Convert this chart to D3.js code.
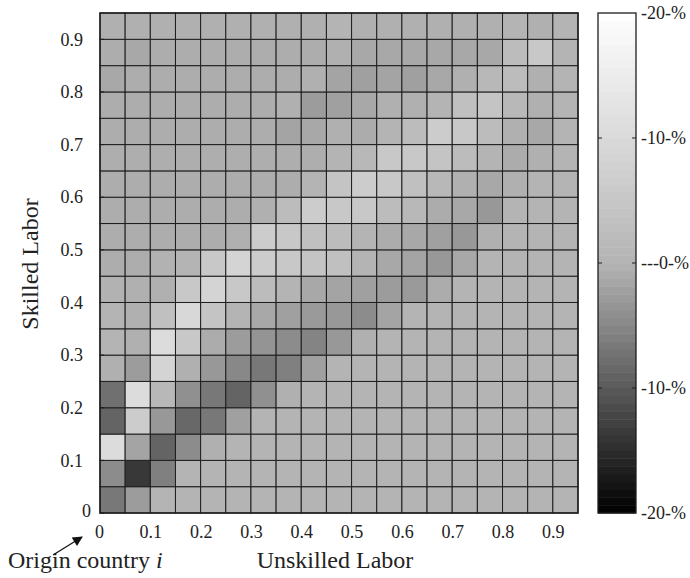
<!DOCTYPE html>
<html>
<head>
<meta charset="utf-8">
<script src="https://cdn.jsdelivr.net/npm/d3@7"></script>
<style>
  html, body { margin: 0; padding: 0; background: #fff; }
  svg { display: block; font-family: "Liberation Serif", "DejaVu Serif", serif; }
</style>
</head>
<body>
<svg id="chart" width="690" height="578"></svg>
<script>
// ---- data ----
// lower edge of each bin (unskilled labor share = x, skilled labor share = y)
const bins = [0, 0.05, 0.1, 0.15, 0.2, 0.25, 0.3, 0.35, 0.4, 0.45, 0.5, 0.55, 0.6, 0.65, 0.7, 0.75, 0.8, 0.85, 0.9];
const binWidth = 0.05;
// percentage change per cell; rows listed from bottom (skilled 0) to top (skilled 0.9)
const row00 = [-6.7, -2.7, 0, 0, 0, 0, 0, 0, 0, 0, 0, 0, 0, 0, 0, 0, 0, 0, 0];
const row01 = [-4.4, -13.8, -5.8, 0, 0, 0, 0, 0, 0, 0, 0, 0, 0, 0, 0, 0, 0, 0, 0];
const row02 = [10.7, -1.8, -8.9, -4.4, -0.4, 0, 0, 0, 0, 0, 0, 0, 0, 0, 0, 0, 0, 0, 0];
const row03 = [-8.9, 6.4, -3.1, -8.4, -6.7, -2.2, 0, 0, 0, 0, 0, 0, 0, 0, 0, 0, 0, 0, 0];
const row04 = [-7.6, 10.7, 1.1, -4.0, -6.7, -8.9, -4.0, -0.4, 0, 0, 0, 0, 0, 0, 0, 0, 0, 0, 0];
const row05 = [-0.4, -2.7, 8.5, -0.4, -3.1, -4.9, -6.7, -5.8, -2.2, 0, 0, 0, 0, 0, 0, 0, 0, 0, 0];
const row06 = [0, -0.4, 10.7, 5.3, -0.9, -2.7, -3.6, -4.4, -5.3, -3.1, -0.4, 0, 0, 0, 0, 0, 0, 0, 0];
const row07 = [0, -0.4, 3.2, 9.6, 4.3, 0, -1.3, -2.2, -2.9, -3.1, -4.4, -1.8, 0, 0, 0, 0, 0, 0, 0];
const row08 = [-0.2, -0.4, -0.4, 5.3, 8.5, 5.3, 2.1, 0, -1.3, -1.8, -2.2, -2.7, -2.9, -0.9, 0, 0, 0, 0, 0];
const row09 = [-0.8, -0.8, -0.2, 0, 5.3, 8.5, 6.4, 5.3, 4.3, 3.2, 0, -1.3, -1.8, -3.1, -1.3, 0, 0, 0, 0];
const row10 = [-0.8, -0.8, -0.8, -0.8, -0.8, -0.4, 6.4, 5.3, 3.2, 2.1, 0, -0.9, -1.3, -2.2, -3.1, -0.4, 0, 0, 0];
const row11 = [-0.8, -0.8, -0.8, -0.8, -0.8, -0.8, -0.4, 2.1, 6.4, 5.3, 5.3, 2.1, 1.1, -0.9, -1.3, -3.1, 0, 0, 0];
const row12 = [-0.8, -0.8, -0.8, -0.8, -0.8, -0.8, -0.8, -0.8, 0, 4.3, 6.4, 5.3, 3.2, 1.1, -0.4, -1.3, -0.4, 0, 0];
const row13 = [-0.7, -0.7, -0.7, -0.7, -0.7, -0.7, -0.7, -0.7, -0.7, 0, 1.1, 5.3, 5.3, 4.3, 2.1, 0, -0.9, -0.4, 0];
const row14 = [-0.8, -0.8, -0.8, -0.8, -0.8, -0.8, -0.8, -1.8, -1.3, -0.4, -0.9, 0, 2.1, 6.4, 5.3, 2.1, -0.4, -1.3, 0];
const row15 = [-0.8, -0.8, -0.8, -0.8, -0.8, -0.8, -0.8, -0.4, -2.7, -2.2, -1.3, -0.4, -0.4, 0, 3.2, 4.3, 1.1, -0.4, 0];
const row16 = [-1.3, -0.8, -0.8, -0.8, -0.8, -0.8, -0.8, -0.8, -0.4, -1.8, -2.2, -1.8, -2.2, -1.3, -0.4, 1.1, 2.1, -0.4, 0];
const row17 = [-0.8, -1.3, -0.8, -0.8, -0.8, -0.8, -0.8, -0.8, -0.8, -0.4, -1.3, -1.3, -1.3, -1.3, -1.3, -1.3, 2.1, 5.3, 0];
const row18 = [-0.4, -0.4, -0.4, -0.4, -0.4, -0.4, -0.4, -0.4, -0.4, 0, -0.4, -0.4, -0.4, -0.4, -0.4, -0.4, 0, -0.4, 0];
const rows = [row00, row01, row02, row03, row04, row05, row06, row07, row08, row09,
              row10, row11, row12, row13, row14, row15, row16, row17, row18];

const xTickValues = [0, 0.1, 0.2, 0.3, 0.4, 0.5, 0.6, 0.7, 0.8, 0.9];
const xTickLabels = ["0", "0.1", "0.2", "0.3", "0.4", "0.5", "0.6", "0.7", "0.8", "0.9"];
const yTickValues = [0, 0.1, 0.2, 0.3, 0.4, 0.5, 0.6, 0.7, 0.8, 0.9];
const yTickLabels = ["0", "0.1", "0.2", "0.3", "0.4", "0.5", "0.6", "0.7", "0.8", "0.9"];
const colorDomain = [-20, 0, 20];
const colorbarTickValues = [20, 10, 0, -10, -20];
const colorbarTickLabels = ["-20-%", "-10-%", "---0-%", "-10-%", "-20-%"];

// ---- drawing ----
const svg = d3.select("#chart");
const plotLeft = 100, plotRight = 578, plotTop = 13, plotBottom = 513;

const x = d3.scaleLinear().domain([0, 0.95]).range([plotLeft, plotRight]);
const y = d3.scaleLinear().domain([0, 0.95]).range([plotBottom, plotTop]);
const color = d3.scaleLinear().domain(colorDomain).range(["#000000", "#b4b4b4", "#ffffff"]);

const cells = [];
rows.forEach((r, ri) => r.forEach((v, ci) => cells.push({ xs: bins[ci], ys: bins[ri], v })));

svg.append("g").selectAll("rect").data(cells).join("rect")
  .attr("x", d => x(d.xs))
  .attr("y", d => y(d.ys + binWidth))
  .attr("width", d => x(d.xs + binWidth) - x(d.xs))
  .attr("height", d => y(d.ys) - y(d.ys + binWidth))
  .attr("fill", d => color(d.v))
  .attr("stroke", "#1e1e1e")
  .attr("stroke-width", 1);

svg.append("rect")
  .attr("x", plotLeft).attr("y", plotTop)
  .attr("width", plotRight - plotLeft).attr("height", plotBottom - plotTop)
  .attr("fill", "none").attr("stroke", "#1e1e1e").attr("stroke-width", 1.5);

// x axis
const xAxis = d3.axisBottom(x).tickValues(xTickValues)
  .tickFormat((d, i) => xTickLabels[i]).tickSize(0).tickPadding(12);
const gx = svg.append("g").attr("transform", `translate(0,${plotBottom})`).call(xAxis);
gx.select(".domain").remove();
gx.selectAll("text").attr("font-size", 18).attr("fill", "#222").attr("font-family", "Liberation Serif, serif");
gx.selectAll(".tick").filter((d, i) => i === 0).select("text").attr("dx", -1);

// y axis
const yAxis = d3.axisLeft(y).tickValues(yTickValues)
  .tickFormat((d, i) => yTickLabels[i]).tickSize(0).tickPadding(17);
const gy = svg.append("g").attr("transform", `translate(${plotLeft},0)`).call(yAxis);
gy.select(".domain").remove();
gy.selectAll("text").attr("font-size", 18).attr("fill", "#222").attr("font-family", "Liberation Serif, serif");
gy.selectAll(".tick").filter((d, i) => i === 0).select("text").attr("dx", 8).attr("dy", "0.2em");

// small inward ticks on the left
svg.append("g").selectAll("line").data(yTickValues).join("line")
  .attr("x1", plotLeft).attr("x2", plotLeft + 4)
  .attr("y1", d => y(d)).attr("y2", d => y(d))
  .attr("stroke", "#1e1e1e").attr("stroke-width", 1);

// axis titles
svg.append("text")
  .attr("transform", `translate(38,264) rotate(-90)`)
  .attr("text-anchor", "middle")
  .attr("font-size", 24).attr("fill", "#222")
  .text("Skilled Labor");

svg.append("text")
  .attr("x", 335).attr("y", 568)
  .attr("text-anchor", "middle")
  .attr("font-size", 24).attr("fill", "#222")
  .text("Unskilled Labor");

const origin = svg.append("text")
  .attr("x", 8).attr("y", 568)
  .attr("font-size", 24).attr("fill", "#222");
origin.append("tspan").text("Origin country ");
origin.append("tspan").attr("font-style", "italic").text("i");

// arrow
const defs = svg.append("defs");
defs.append("marker").attr("id", "arrowhead")
  .attr("viewBox", "0 0 10 10").attr("refX", 9).attr("refY", 5)
  .attr("markerWidth", 12).attr("markerHeight", 10).attr("markerUnits", "userSpaceOnUse")
  .attr("orient", "auto")
  .append("path").attr("d", "M0,0 L10,5 L0,10 Z").attr("fill", "#111");
svg.append("line")
  .attr("x1", 53).attr("y1", 555).attr("x2", 82).attr("y2", 537)
  .attr("stroke", "#111").attr("stroke-width", 1.2)
  .attr("marker-end", "url(#arrowhead)");

// colorbar
const cbLeft = 598, cbRight = 636;
const cbScale = d3.scaleLinear().domain([-20, 20]).range([plotBottom, plotTop]);
const nSteps = 64;
const stepEdges = d3.range(nSteps).map(i => -20 + i * 40 / nSteps);
svg.append("g").selectAll("rect").data(stepEdges).join("rect")
  .attr("x", cbLeft)
  .attr("y", d => cbScale(d + 40 / nSteps))
  .attr("width", cbRight - cbLeft)
  .attr("height", d => cbScale(d) - cbScale(d + 40 / nSteps) + 0.5)
  .attr("fill", d => color(d + 20 / nSteps));
svg.append("rect")
  .attr("x", cbLeft).attr("y", plotTop)
  .attr("width", cbRight - cbLeft).attr("height", plotBottom - plotTop)
  .attr("fill", "none").attr("stroke", "#1e1e1e").attr("stroke-width", 1.3);

const innerTicks = colorbarTickValues.filter(v => Math.abs(v) < 20);
svg.append("g").selectAll("line.l").data(innerTicks).join("line")
  .attr("x1", cbLeft).attr("x2", cbLeft + 4)
  .attr("y1", d => cbScale(d)).attr("y2", d => cbScale(d))
  .attr("stroke", "#1e1e1e");
svg.append("g").selectAll("line.r").data(innerTicks).join("line")
  .attr("x1", cbRight - 4).attr("x2", cbRight)
  .attr("y1", d => cbScale(d)).attr("y2", d => cbScale(d))
  .attr("stroke", "#1e1e1e");

svg.append("g").selectAll("text").data(colorbarTickValues).join("text")
  .attr("x", 641)
  .attr("y", d => cbScale(d))
  .attr("dy", "0.35em")
  .attr("font-size", 18).attr("fill", "#222")
  .text((d, i) => colorbarTickLabels[i]);
</script>
</body>
</html>
